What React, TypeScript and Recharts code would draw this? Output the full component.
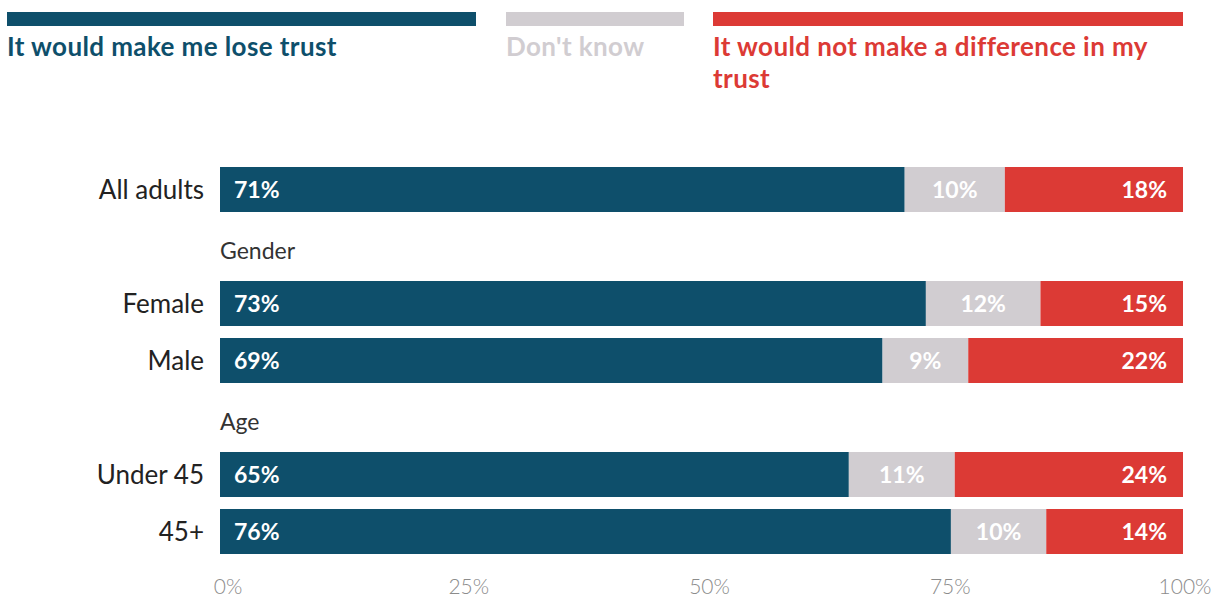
import React from "react";
import { BarChart, Bar, XAxis, YAxis, LabelList } from "recharts";

const categories = ["All adults", "Gender", "Female", "Male", "Age", "Under 45", "45+"];
const headerRows = ["Gender", "Age"];
const loseTrust = [71.1, null, 73.3, 68.8, null, 65.3, 75.9];
const dontKnow = [10.4, null, 11.9, 8.9, null, 11.0, 9.9];
const noDifference = [18.5, null, 14.8, 22.3, null, 23.7, 14.2];
const loseTrustLabels = ["71%", null, "73%", "69%", null, "65%", "76%"];
const dontKnowLabels = ["10%", null, "12%", "9%", null, "11%", "10%"];
const noDifferenceLabels = ["18%", null, "15%", "22%", null, "24%", "14%"];
const xTicks = [0, 25, 50, 75, 100];

const seriesNames = [
  "It would make me lose trust",
  "Don't know",
  "It would not make a difference in my trust",
];
const COLORS = ["#0e4f6b", "#d1cdd1", "#dc3a35"];

const data = categories.map((name, i) => ({
  name,
  lose: loseTrust[i],
  dk: dontKnow[i],
  nd: noDifference[i],
  loseL: loseTrustLabels[i],
  dkL: dontKnowLabels[i],
  ndL: noDifferenceLabels[i],
}));

const FONT = "Lato, 'Open Sans', sans-serif";

const YTick = (props: any) => {
  const { y, payload } = props;
  const isHeader = headerRows.includes(payload.value);
  if (isHeader) {
    return (
      <text x={220} y={y} dy={12} textAnchor="start" fontSize={23} fill="#333" fontFamily={FONT}>
        {payload.value}
      </text>
    );
  }
  return (
    <text x={204} y={y} dy={9} textAnchor="end" fontSize={26} fill="#222" fontFamily={FONT}>
      {payload.value}
    </text>
  );
};

const XTick = (props: any) => {
  const { x, y, payload } = props;
  const dx = payload.value === 100 ? 2 : 8;
  return (
    <text x={x + dx} y={y} dy={26} textAnchor="middle" fontSize={21} fontWeight={300} fill="#8c8c8c" fontFamily={FONT}>
      {payload.value + "%"}
    </text>
  );
};

const makeLabel = (mode: "left" | "center" | "right") => (props: any) => {
  const { x, y, width, height, value } = props;
  if (!value) return null;
  let tx = x + 14;
  let anchor = "start";
  if (mode === "center") {
    tx = x + width / 2;
    anchor = "middle";
  } else if (mode === "right") {
    tx = x + width - 16;
    anchor = "end";
  }
  return (
    <text
      x={tx}
      y={y + height / 2}
      dy={8}
      textAnchor={anchor}
      fontSize={23}
      fontWeight={700}
      fill="#fff"
      fontFamily={FONT}
    >
      {value}
    </text>
  );
};

const legendItems = [
  { left: 7, width: 469 },
  { left: 506, width: 178 },
  { left: 713, width: 470 },
];

export default function App() {
  return (
    <div
      style={{
        position: "absolute",
        left: 0,
        top: 0,
        width: 1214,
        height: 603,
        background: "#fff",
        fontFamily: FONT,
      }}
    >
      {legendItems.map((it, i) => (
        <div
          key={i}
          style={{ position: "absolute", left: it.left, top: 12, width: it.width }}
        >
          <div style={{ height: 14, background: COLORS[i] }} />
          <div
            style={{
              marginTop: 4,
              color: COLORS[i],
              fontSize: 26,
              fontWeight: 700,
              letterSpacing: 0.4,
              lineHeight: "32px",
            }}
          >
            {seriesNames[i]}
          </div>
        </div>
      ))}
      <div style={{ position: "absolute", left: 0, top: 0 }}>
        <BarChart
          width={1214}
          height={603}
          data={data}
          layout="vertical"
          margin={{ top: 161, right: 31, bottom: 0, left: 0 }}
          barCategoryGap={6}
        >
          <XAxis
            type="number"
            domain={[0, 100]}
            ticks={xTicks}
            axisLine={false}
            tickLine={false}
            height={43}
            tick={<XTick />}
            interval={0}
          />
          <YAxis
            type="category"
            dataKey="name"
            width={220}
            axisLine={false}
            tickLine={false}
            tick={<YTick />}
            interval={0}
          />
          <Bar dataKey="lose" stackId="a" fill={COLORS[0]} isAnimationActive={false}>
            <LabelList dataKey="loseL" content={makeLabel("left")} />
          </Bar>
          <Bar dataKey="dk" stackId="a" fill={COLORS[1]} isAnimationActive={false}>
            <LabelList dataKey="dkL" content={makeLabel("center")} />
          </Bar>
          <Bar dataKey="nd" stackId="a" fill={COLORS[2]} isAnimationActive={false}>
            <LabelList dataKey="ndL" content={makeLabel("right")} />
          </Bar>
        </BarChart>
      </div>
    </div>
  );
}
